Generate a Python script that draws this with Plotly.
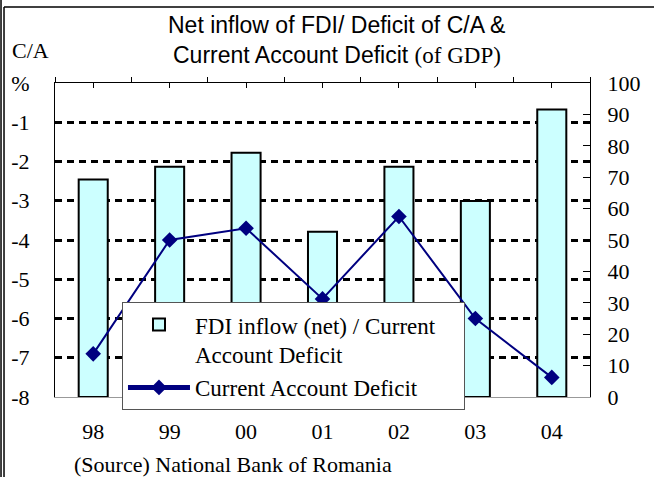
import plotly.graph_objects as go

years = ["98", "99", "00", "01", "02", "03", "04"]
fdi_ratio = [69.3, 73.3, 77.8, 52.6, 73.3, 62.4, 91.6]   # right axis, %
ca_deficit = [-6.9, -4.0, -3.7, -5.5, -3.4, -6.0, -7.5]  # left axis, % of GDP
left_ticks = [-8, -7, -6, -5, -4, -3, -2, -1, 0]
left_ticktext = ["-8", "-7", "-6", "-5", "-4", "-3", "-2", "-1", "%"]
right_ticks = [0, 10, 20, 30, 40, 50, 60, 70, 80, 90, 100]

SERIF = "Liberation Serif, Times New Roman, serif"
SANS = "Liberation Sans, Arial, sans-serif"

fig = go.Figure()

fig.add_trace(go.Bar(
    x=years, y=fdi_ratio,
    name="FDI inflow (net) / Current\u00a0\u00a0\u00a0\u00a0<br>Account Deficit",
    xaxis="x", yaxis="y", width=0.38,
    marker=dict(color="#CCFFFF", line=dict(color="black", width=2)),
))
fig.add_trace(go.Scatter(
    x=years, y=ca_deficit, name="Current Account Deficit",
    xaxis="x", yaxis="y2", mode="lines+markers",
    line=dict(color="#000080", width=2),
    marker=dict(symbol="diamond", size=12, color="#000080"),
))
# helper (invisible) trace so the top tick axis is drawn
fig.add_trace(go.Scatter(x=[0], y=[0], xaxis="x2", yaxis="y", mode="markers",
                         marker=dict(opacity=0), showlegend=False, hoverinfo="skip"))

n = len(years)
fig.update_layout(
    width=654, height=477,
    margin=dict(l=55, r=64, t=83, b=80),
    paper_bgcolor="white", plot_bgcolor="white",
    showlegend=True,
    legend=dict(
        x=0.1252, y=0.302, xanchor="left", yanchor="top",
        font=dict(family=SERIF, size=23, color="black"),
        bgcolor="white", bordercolor="#555555", borderwidth=1,
        itemwidth=62, valign="top", tracegroupgap=0, itemsizing="constant",
        traceorder="normal",
    ),
    xaxis=dict(
        type="category", range=[-0.5, n - 0.5],
        showline=True, linecolor="#999999", linewidth=1,
        ticks="", showgrid=False, zeroline=False,
        tickfont=dict(family=SERIF, size=22, color="black"),
        ticklabelstandoff=15,
    ),
    xaxis2=dict(
        overlaying="x", anchor="y", side="top", range=[-0.5, n - 0.5],
        tickvals=[i - 0.5 for i in range(n + 1)],
        ticks="outside", ticklen=5, tickwidth=1, tickcolor="black",
        minor=dict(tickvals=list(range(n)), ticks="inside", ticklen=5,
                   tickwidth=1, tickcolor="black"),
        showticklabels=False, showgrid=False, zeroline=False,
        showline=True, linecolor="black", linewidth=1,
    ),
    yaxis=dict(
        side="right", range=[0, 100], tickvals=right_ticks,
        ticks="inside", ticklen=7, tickcolor="black",
        showline=True, linecolor="black", linewidth=1,
        showgrid=False, zeroline=False,
        tickfont=dict(family=SERIF, size=22, color="black"),
        ticklabelstandoff=12,
    ),
    yaxis2=dict(
        overlaying="y", side="left", anchor="x", range=[-8, 0],
        tickvals=left_ticks, ticktext=left_ticktext,
        ticks="inside", ticklen=5, tickcolor="black",
        showline=True, linecolor="black", linewidth=1,
        showgrid=True, gridcolor="black", gridwidth=3, griddash="7px,5px",
        zeroline=False,
        tickfont=dict(family=SERIF, size=22, color="black"),
        ticklabelstandoff=20,
    ),
    annotations=[
        dict(text="Net inflow of FDI/ Deficit of C/A &", xref="paper", yref="paper",
             x=0.527, y=1.1847, xanchor="center", yanchor="middle", showarrow=False,
             font=dict(family=SANS, size=23, color="black")),
        dict(text="Current Account Deficit <span style=\"font-family:'Liberation Serif',serif\">(of GDP)</span>",
             xref="paper", yref="paper",
             x=0.527, y=1.089, xanchor="center", yanchor="middle", showarrow=False,
             font=dict(family=SANS, size=23, color="black")),
        dict(text="C/A", xref="paper", yref="paper", x=-0.0458, y=1.102,
             xanchor="center", yanchor="middle", showarrow=False,
             font=dict(family=SERIF, size=22, color="black")),
        dict(text="(Source) National Bank of Romania", xref="paper", yref="paper",
             x=0.0312, y=-0.2134, xanchor="left", yanchor="middle", showarrow=False,
             font=dict(family=SERIF, size=22, color="black")),
    ],
    shapes=[
        dict(type="line", xref="paper", yref="paper", x0=-0.1009, x1=-0.1009,
             y0=1.27, y1=-0.26, line=dict(color="black", width=1.5)),
        dict(type="line", xref="paper", yref="paper", x0=-0.0953, x1=-0.0953,
             y0=1.242, y1=-0.26, line=dict(color="black", width=1.5)),
        dict(type="line", xref="paper", yref="paper", x0=-0.0953, x1=1.13,
             y0=1.242, y1=1.242, line=dict(color="black", width=1.5)),
    ],
)

fig.write_html(
    "out.html",
    config={"displayModeBar": False},
    post_script="document.body.style.margin='0';document.body.style.padding='0';"
                "document.body.style.overflow='hidden';",
)
